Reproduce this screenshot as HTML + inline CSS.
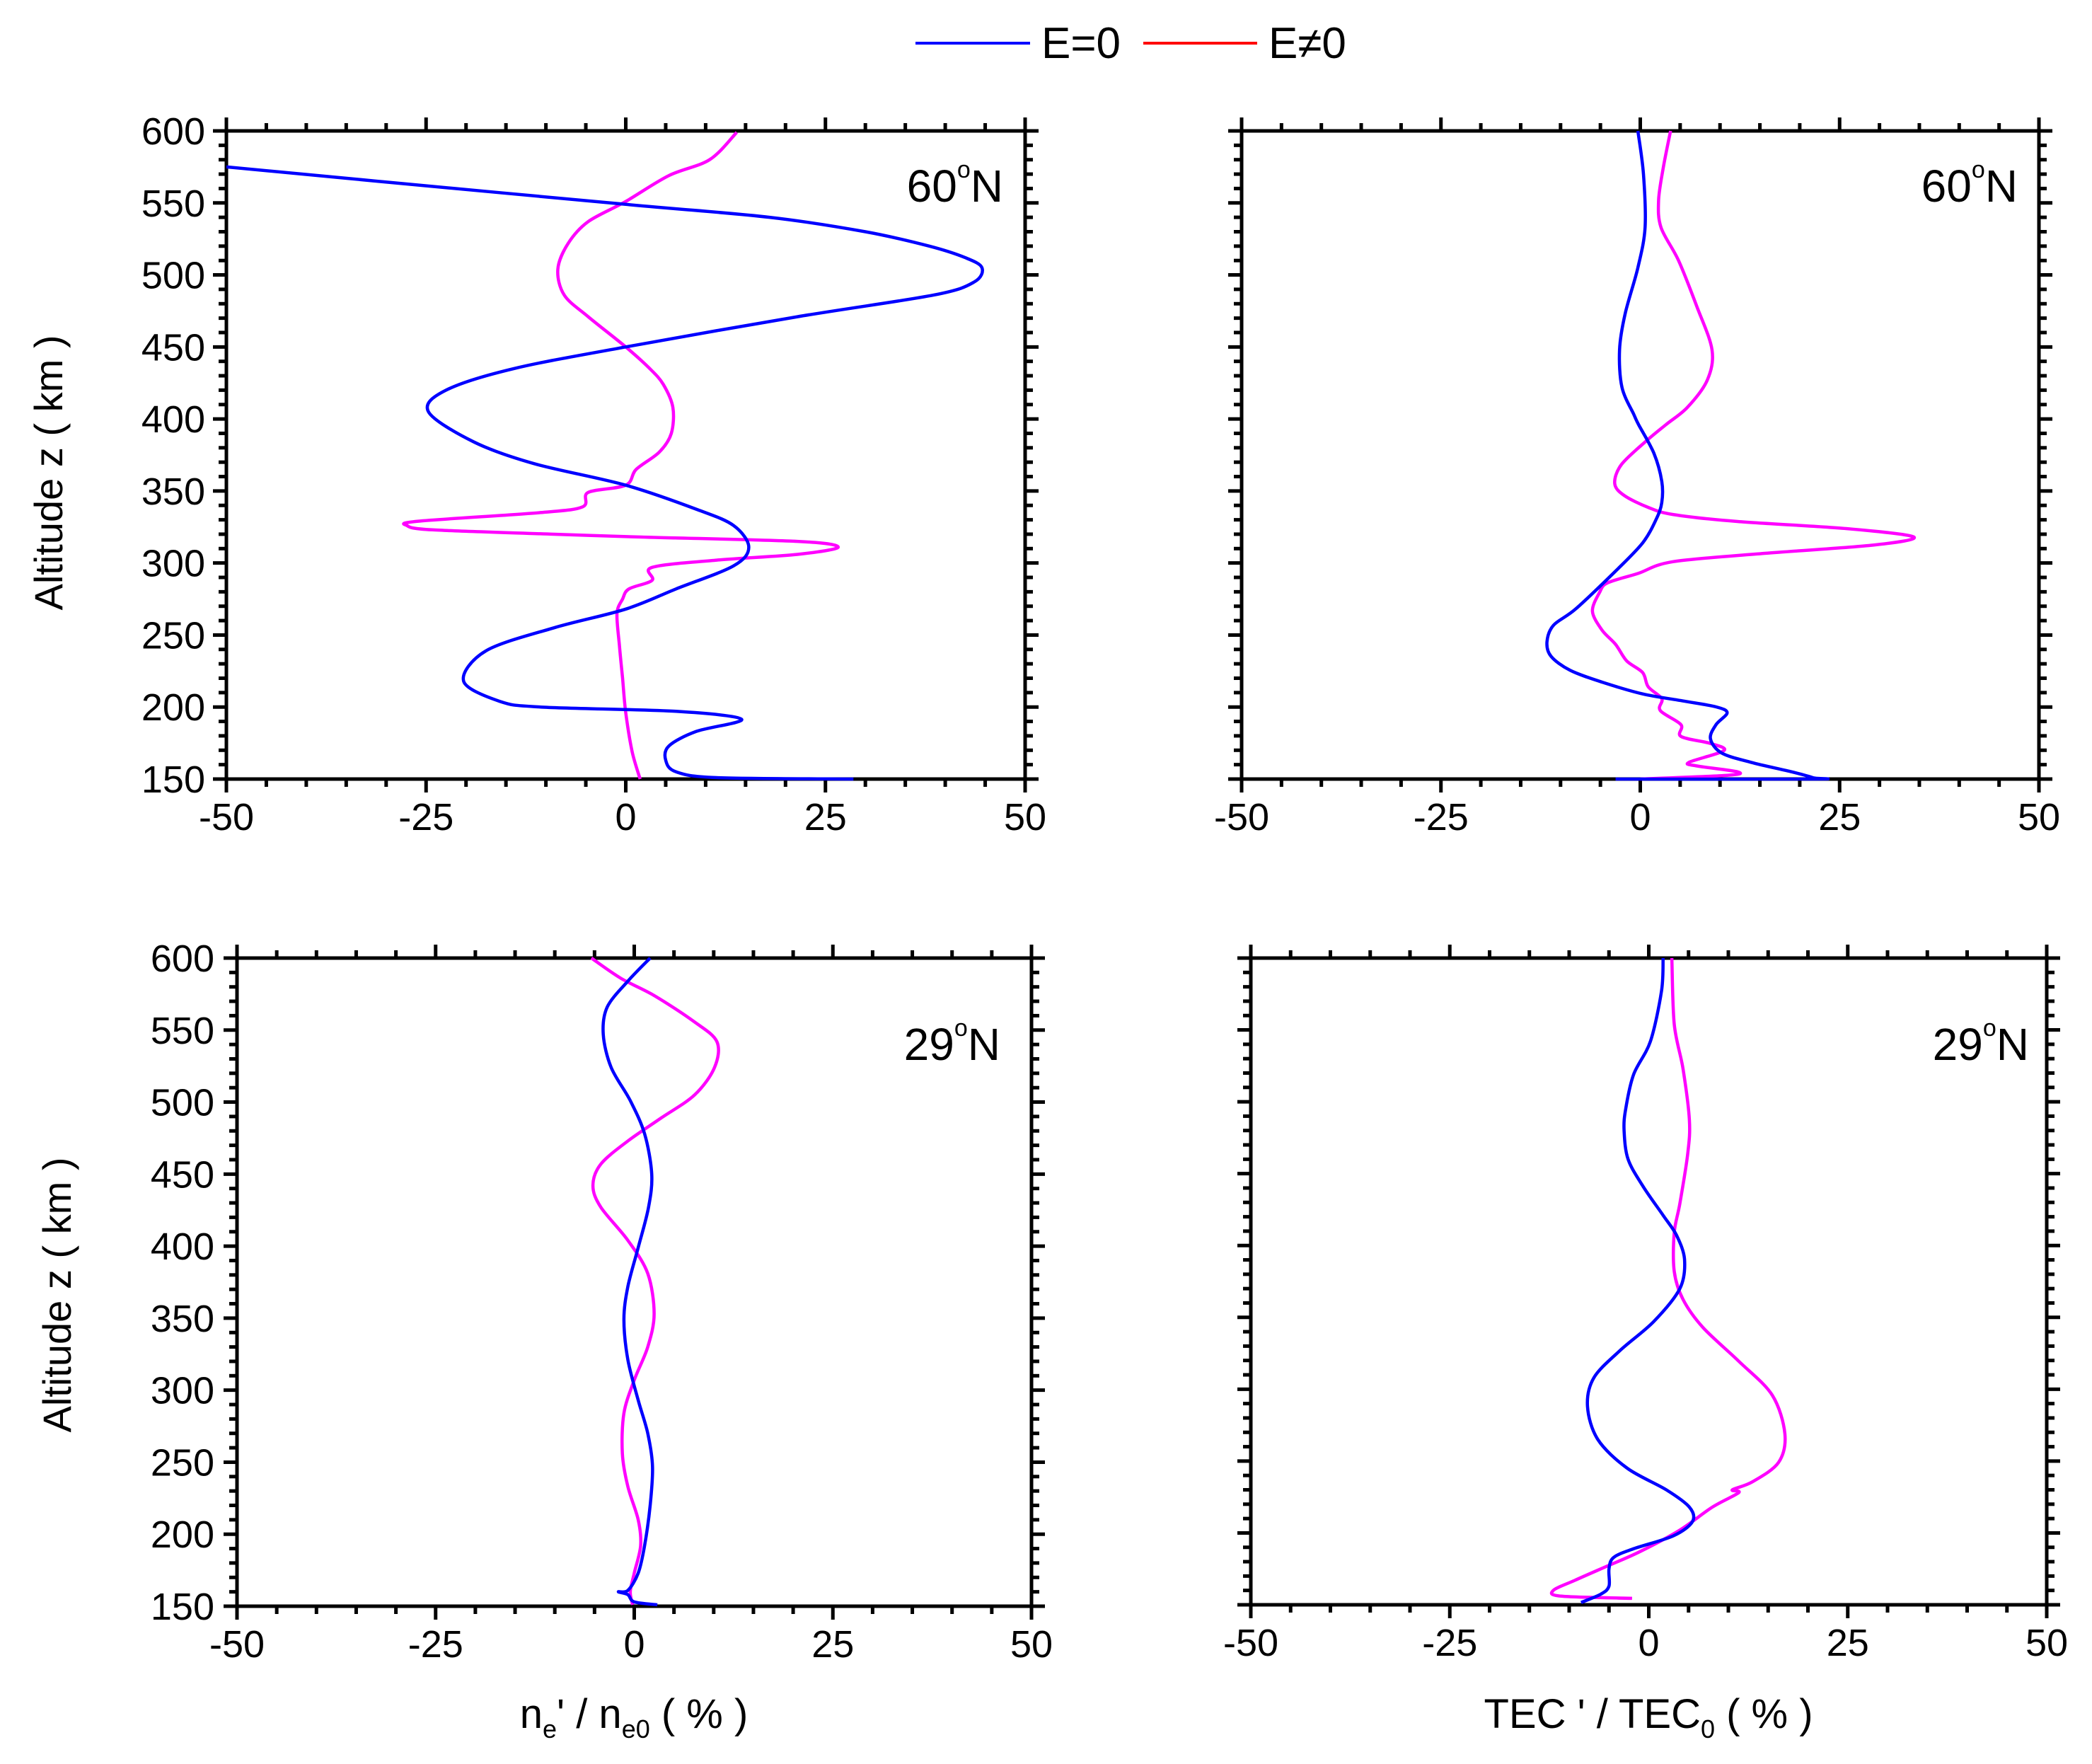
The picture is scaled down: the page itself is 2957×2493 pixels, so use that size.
<!DOCTYPE html>
<html><head><meta charset="utf-8">
<style>
html,body{margin:0;padding:0;background:#fff;}
svg{display:block;font-family:"Liberation Sans Narrow","Liberation Sans",sans-serif;}
</style></head>
<body>
<svg id="chart" width="2957" height="2493" viewBox="0 0 2957 2493" xmlns="http://www.w3.org/2000/svg">
  <g>
    <line x1="1294" y1="61" x2="1456" y2="61" stroke="#0000ff" stroke-width="4"/>
    <text x="1472" y="82" font-size="62">E=0</text>
    <line x1="1616" y1="61" x2="1777" y2="61" stroke="#ff0000" stroke-width="4"/>
    <text x="1793" y="82" font-size="62">E≠0</text>
  </g>
  <text transform="translate(88,668) rotate(-90)" text-anchor="middle" font-size="56">Altitude z ( km )</text>
  <text transform="translate(100,1830) rotate(-90)" text-anchor="middle" font-size="56">Altitude z ( km )</text>
  <text x="896" y="2442" text-anchor="middle" font-size="58">n<tspan font-size="36" dy="14">e</tspan><tspan dy="-14">' / n</tspan><tspan font-size="36" dy="14">e0</tspan><tspan dy="-14"> ( % )</tspan></text>
  <text x="2330" y="2442" text-anchor="middle" font-size="58">TEC ' / TEC<tspan font-size="36" dy="14">0</tspan><tspan dy="-14"> ( % )</tspan></text>
</svg>
<script>
// Panel 1: ne'/ne0 at 60N
const p1BlueAlt = [575,565,549,540,530,520,512,505,495,486,471,450,435,420,405,384,369,354,337,326,311,298,282,268,255,239,218,204,200,197,191.5,183,173,163,155,151,150];
const p1BlueVal = [-50,-31,0,18,30,38,42.5,44.6,43.6,38.5,21.5,0,-14,-22.5,-24.7,-19,-11.5,0,9,13.5,15.4,13.5,6.3,0,-9,-17.5,-20.3,-15.8,-10.7,6.3,14.5,8.8,5.4,5,6.3,11.4,28.5];
const p1MagAlt = [599,580,569,551,537,522,504,486,471,450,435,424,408,390,377,365,354,349,339,335,329,326,323,320,318,315,311,306,302,297,288,282,275,265,243,220,196,169,150];
const p1MagVal = [13.9,10.5,5.4,0,-4.7,-7.2,-8.5,-7.7,-4.7,0,3,4.7,5.9,5.7,4.2,1.3,0,-4.7,-5.4,-10.7,-26,-27.4,-24.2,-9,2,21.5,26.6,21.5,11.4,3.3,3.3,0.4,-0.4,-1.1,-0.8,-0.4,0,0.8,1.8];
// Panel 2: TEC'/TEC0 at 60N
const p2BlueAlt = [600,570,533,505,473,448,422,403,396,376.3,356.7,342,330.4,314,294.4,268.1,256.7,245.2,235.3,225.5,217.3,209.1,204.2,200.1,196,187.8,178,168.1,161.6,155,150.9,150,150];
const p2BlueVal = [-0.3,0.4,0.6,-0.3,-1.9,-2.6,-2.3,-0.8,-0.2,1.7,2.7,2.7,2.0,0.3,-3.1,-8.1,-10.9,-11.7,-11.2,-8.8,-4.8,0.3,5.4,9.5,10.9,9.5,8.8,10.2,13.9,19,21.7,21.7,-3.1];
const p2MagAlt = [600,575,552,533,510,478,448,427,408,396,384.5,368.1,355,346.8,338.6,333.7,328.8,323.9,318.1,312.4,306.7,300.9,292.7,286.2,279.6,266.5,253.4,243.5,232,223.9,214,205.8,197.6,187.8,179.6,174.7,169.8,161.6,159.1,155,152.6,150];
const p2MagVal = [3.8,2.9,2.3,2.6,4.8,7.1,9,8.4,5.9,3.2,0.7,-2.4,-3.2,-2,1,4.1,12.2,25.8,34.3,29.2,15.6,4.1,-0.3,-4.1,-5.1,-6,-4.8,-3.1,-1.7,0.3,1,2.7,2.5,5.1,5.1,8.8,10.5,6.1,7.1,12.2,10.9,0];
// Panel 3: ne'/ne0 at 29N
const p3BlueAlt = [600,584,566,547,524,501,478,450,427,399,372,349,321,293,270,247,220,192,173,161,160,158,153,151];
const p3BlueVal = [2,-0.8,-3.4,-3.9,-2.9,-0.5,1.3,2.2,1.8,0.5,-0.8,-1.3,-0.8,0.5,1.7,2.3,2,1.3,0.5,-0.8,-2,-0.8,0,2.9];
const p3MagAlt = [600,586,574,556,542,524,505,489,473,457,442,427,404,381,353,330,307,284,256,233,210,192,173,160,151];
const p3MagVal = [-5.4,-1.7,2.5,7.5,10.4,10.1,7.6,3.4,-0.8,-4.2,-5.2,-4.2,-0.8,1.7,2.5,1.7,0,-1.3,-1.5,-0.8,0.5,0.8,0,-0.5,-0.2];
// Panel 4: TEC'/TEC0 at 29N
const p4BlueAlt = [600,577,542,519,495,480,460,441,421,407,390,370,347,327,308,288,265,245,230,218,208,198,189,183,175,163,157.5,151.6];
const p4BlueVal = [1.8,1.6,0.2,-1.9,-2.9,-3.1,-2.6,-0.7,1.8,3.5,4.5,3.9,0.6,-3.6,-6.9,-7.7,-6.4,-2.7,2.2,5.1,5.5,3.1,-1.9,-4.4,-5,-5,-6,-8.5];
const p4MagAlt = [600,554,523,487.5,464,429,409,382,362.5,343,319.5,296,269,249,235.5,230,228,218,202,187,177,167,160,156,154.5];
const p4MagVal = [2.9,3.2,4.3,5.1,4.9,3.9,3.2,3.2,4.3,6.8,11.3,15.5,17.1,16.3,13,10.5,11.3,8,3.9,-1.1,-5.2,-9.3,-12,-11,-2.1];

const xTicks = [-50,-25,0,25,50];
const yTicks = [150,200,250,300,350,400,450,500,550,600];

const NS = "http://www.w3.org/2000/svg";
const svg = document.getElementById("chart");
function mk(tag, attrs, parent){
  const e = document.createElementNS(NS, tag);
  for (const k in attrs) e.setAttribute(k, attrs[k]);
  parent.appendChild(e);
  return e;
}
function smoothPath(P){
  let d = "M" + P[0][0].toFixed(1) + "," + P[0][1].toFixed(1);
  for (let i = 0; i < P.length - 1; i++) {
    const p0 = P[Math.max(i-1,0)], p1 = P[i], p2 = P[i+1], p3 = P[Math.min(i+2,P.length-1)];
    const t = 0.16;
    const c1 = [p1[0] + (p2[0]-p0[0])*t, p1[1] + (p2[1]-p0[1])*t];
    const c2 = [p2[0] - (p3[0]-p1[0])*t, p2[1] - (p3[1]-p1[1])*t];
    d += " C" + c1[0].toFixed(1) + "," + c1[1].toFixed(1) + " " + c2[0].toFixed(1) + "," + c2[1].toFixed(1) + " " + p2[0].toFixed(1) + "," + p2[1].toFixed(1);
  }
  return d;
}
function panel(id, L, T, R, B, yLabels, yLabelRight, label, lblX, lblY, blueAlt, blueVal, magAlt, magVal){
  const g = mk("g", {}, svg);
  
  
  const xs = v => L + (v + 50) / 100 * (R - L);
  const ys = a => B - (a - 150) / 450 * (B - T);
  for (let v = -50; v <= 50; v += 5) {
    const major = v % 25 === 0;
    const len = major ? 19 : 11;
    const x = xs(v);
    const t1 = mk("line", {x1:x, y1:T, x2:x, y2:T-len, stroke:"#000", "stroke-width":5}, g);
    
    
    const t2 = mk("line", {x1:x, y1:B, x2:x, y2:B+len, stroke:"#000", "stroke-width":5}, g);
    
    
  }
  for (let a = 150; a <= 600; a += 10) {
    const major = a % 50 === 0;
    const len = major ? 19 : 11;
    const y = ys(a);
    const t1 = mk("line", {x1:L, y1:y, x2:L-len, y2:y, stroke:"#000", "stroke-width":5}, g);
    
    
    const t2 = mk("line", {x1:R, y1:y, x2:R+len, y2:y, stroke:"#000", "stroke-width":5}, g);
    
    
  }
  const fr = mk("rect", {x:L, y:T, width:R-L, height:B-T, fill:"none", stroke:"#000", "stroke-width":5}, g);
  
  
  xTicks.forEach(v => {
    const t = mk("text", {x:xs(v), y:B+72, "text-anchor":"middle", "font-size":54}, g);
    t.textContent = v;
    
    
  });
  if (yLabels) {
    yTicks.forEach(a => {
      const t = mk("text", {x:yLabelRight, y:ys(a)+19, "text-anchor":"end", "font-size":54}, g);
      t.textContent = a;
      
      
    });
  }
  const lab = mk("text", {x:lblX, y:lblY, "text-anchor":"end", "font-size":64}, g);
  lab.innerHTML = label + '<tspan font-size="34" dy="-34">o</tspan><tspan dy="34">N</tspan>';
  
  
  const cp = mk("clipPath", {id:id+"-clip"}, g);
  mk("rect", {x:L, y:T-3, width:R-L, height:B-T+6}, cp);
  const pts = (al, vl) => al.map((a,i) => [xs(vl[i]), ys(a)]);
  const m = mk("path", {d:smoothPath(pts(magAlt, magVal)), fill:"none", stroke:"#ff00ff", "stroke-width":4.5, "stroke-linejoin":"round", "clip-path":"url(#"+id+"-clip)"}, g);
  
  
  const b = mk("path", {d:smoothPath(pts(blueAlt, blueVal)), fill:"none", stroke:"#0000ff", "stroke-width":4.5, "stroke-linejoin":"round", "clip-path":"url(#"+id+"-clip)"}, g);
  
  
}
panel("panel-ne-60n", 320, 185, 1449, 1101, true, 290, "60", 1418, 285, p1BlueAlt, p1BlueVal, p1MagAlt, p1MagVal);
panel("panel-tec-60n", 1755, 185, 2882, 1101, false, 0, "60", 2852, 285, p2BlueAlt, p2BlueVal, p2MagAlt, p2MagVal);
panel("panel-ne-29n", 335, 1354, 1458, 2270, true, 303, "29", 1414, 1498, p3BlueAlt, p3BlueVal, p3MagAlt, p3MagVal);
panel("panel-tec-29n", 1768, 1354, 2893, 2268, false, 0, "29", 2868, 1498, p4BlueAlt, p4BlueVal, p4MagAlt, p4MagVal);
</script>
</body></html>
